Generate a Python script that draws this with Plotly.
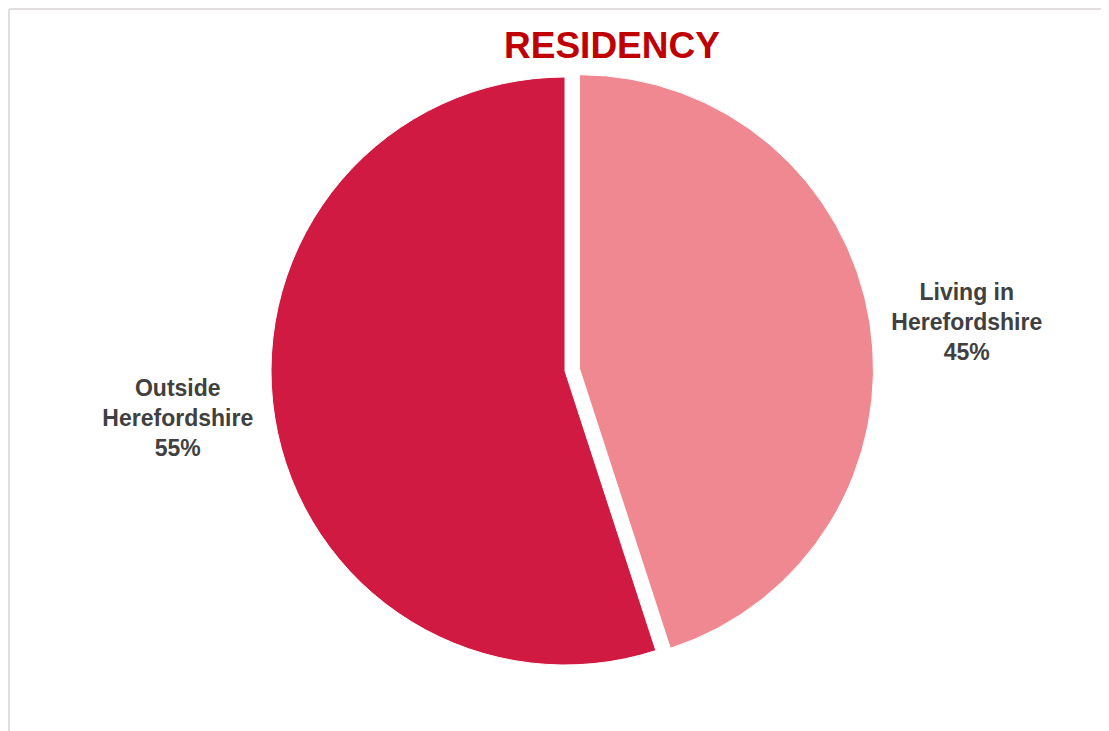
import plotly.graph_objects as go

labels = ["Living in<br>Herefordshire", "Outside<br>Herefordshire"]
values = [45, 55]
colors = ["#F08891", "#D01A41"]
pulls = [0.05, 0]

# page body adds an 8px offset; figure sized to fit the window
OFF = 8
W, H = 1109 - OFF, 731 - OFF
cx, cy, r = 565 - OFF, 371 - OFF, 294
half = r * (1 + max(pulls))

fig = go.Figure(go.Pie(
    labels=labels,
    values=values,
    sort=False,
    direction="clockwise",
    rotation=0,
    pull=pulls,
    marker=dict(colors=colors, line=dict(color="white", width=1)),
    textposition="outside",
    texttemplate="<b>%{label}<br>%{percent:.0%}</b>",
    textfont=dict(family="Liberation Sans, Arial, sans-serif", size=23, color="#404040"),
    showlegend=False,
    automargin=False,
    hoverinfo="label+percent",
    domain=dict(
        x=[(cx - 400) / W, (cx + 400) / W],
        y=[(H - (cy + half)) / H, (H - (cy - half)) / H],
    ),
))

border = dict(color="#E3DEDE", width=2)
fig.update_layout(
    width=W, height=H,
    margin=dict(l=0, r=0, t=0, b=0, autoexpand=False),
    paper_bgcolor="white",
    plot_bgcolor="white",
    title=dict(
        text="<b>RESIDENCY</b>",
        x=(612 - OFF) / W, xanchor="center",
        y=1 - (45 - OFF) / H, yanchor="middle",
        font=dict(family="Liberation Sans, Arial, sans-serif", size=37, color="#C00000"),
    ),
    shapes=[
        dict(type="line", xref="paper", yref="paper",
             x0=1 / W, x1=1, y0=1 - 1 / H, y1=1 - 1 / H, line=border, layer="below"),
        dict(type="line", xref="paper", yref="paper",
             x0=1 / W, x1=1 / W, y0=0, y1=1 - 1 / H, line=border, layer="below"),
    ],
)

fig.write_html("out.html")
